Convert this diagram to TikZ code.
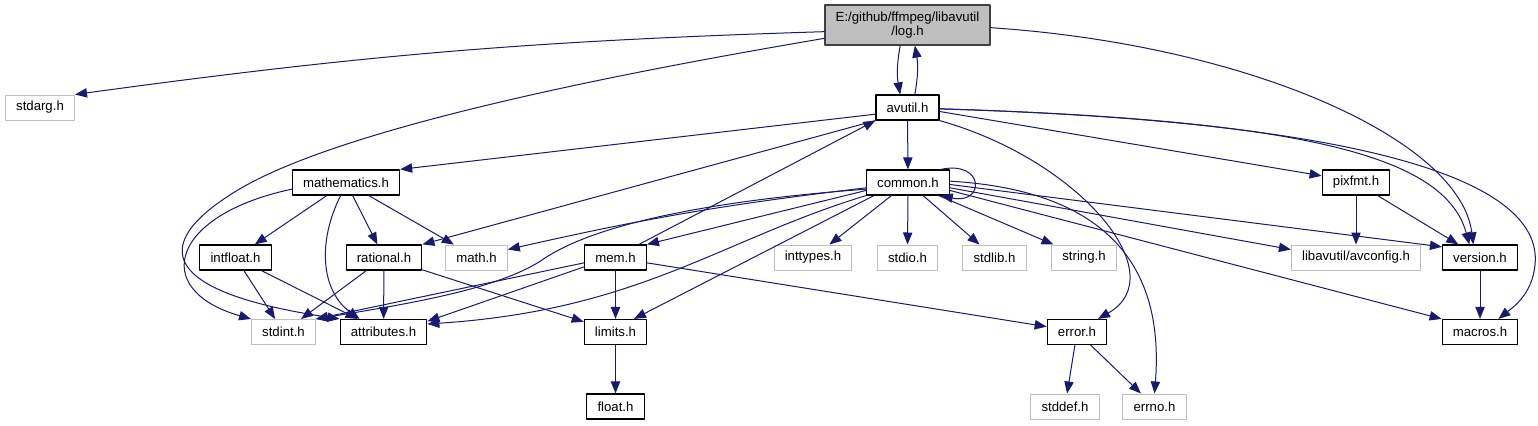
\documentclass[tikz,border=0pt]{standalone}
\usepackage{fontspec}
\setmainfont{Liberation Sans}
\usepackage{tikz}
\usetikzlibrary{positioning,arrows.meta}

\definecolor{depblue}{HTML}{191970}
\definecolor{hdrgray}{HTML}{BFBFBF}
\definecolor{hdrdark}{HTML}{404040}

\tikzset{
  filebox/.style={draw=black, line width=0.9pt, fill=white, minimum height=18.75pt,
    inner xsep=8pt, inner ysep=0pt, font=\fontsize{9.9}{11}\selectfont},
  sysbox/.style={filebox, draw=hdrgray, line width=0.75pt},
  rootbox/.style={filebox, fill=hdrgray, draw=hdrdark, minimum height=30pt, align=center},
  dep/.style={draw=depblue, line width=0.75pt, -{Triangle[length=9pt,width=7pt]}}
}

\begin{document}
\begin{tikzpicture}[x=0.75pt,y=-0.75pt, line cap=round, line join=round]
\path[use as bounding box, fill=white] (0,0) rectangle (1538,425);

% the header itself
\node[rootbox] (log) at (907.5,25) {E:/github/ffmpeg/libavutil\\/log.h};

% documented headers
\node[filebox] (avutil) at (907.5,107.5) {avutil.h};
\node[filebox] (mathematics) at (346,182.5) {mathematics.h};
\node[filebox] (common) at (908,182.5) {common.h};
\node[filebox] (pixfmt) at (1356,182.5) {pixfmt.h};
\node[filebox] (intfloat) at (235.5,257.5) {intfloat.h};
\node[filebox] (rational) at (384,257.5) {rational.h};
\node[filebox] (mem) at (615.5,257.5) {mem.h};
\node[filebox] (version) at (1480,257.5) {version.h};
\node[filebox] (attributes) at (383.5,332) {attributes.h};
\node[filebox] (limits) at (615.5,332) {limits.h};
\node[filebox] (error) at (1077,332) {error.h};
\node[filebox] (macros) at (1480,332) {macros.h};
\node[filebox] (float) at (615.5,406.5) {float.h};

% system headers (no docs)
\foreach \n/\x/\y/\t in {stdarg/40/107.5/stdarg.h, mathh/476.5/257.5/math.h,
    inttypes/813/257.5/inttypes.h, stdio/907.5/257.5/stdio.h,
    stdlib/994.5/257.5/stdlib.h, string/1084/257.5/string.h,
    stdint/283.5/332/stdint.h, stddef/1065/406.5/stddef.h,
    errno/1154.5/406.5/errno.h} {
  \node[sysbox] (\n) at (\x,\y) {\t};
}
\node[sysbox] (avconfig) at (1356,257.5) {libavutil/avconfig.h};

% includes of log.h
\draw[dep] ([yshift=-5pt]log.west) to[bend right=3] (stdarg.north east);
\draw[dep] ([yshift=-10pt]log.west) .. controls (650,68) and (340,125) .. (233,193)
  .. controls (150,245) and (160,292) .. (attributes.north west);
\draw[dep] ([xshift=-5.5pt]log.south) to[bend right=10] ([xshift=-5.5pt]avutil.north);
\draw[dep] ([yshift=-2pt]log.east) .. controls (1250,45) and (1460,140) .. ([xshift=-5pt]version.north);

% includes of avutil.h
\draw[dep] ([xshift=5.5pt]avutil.north) to[bend right=10] ([xshift=5.5pt]log.south);
\draw[dep] ([yshift=-5pt]avutil.west) -- (mathematics.north east);
\draw[dep] (avutil.south west) -- (rational.north east);
\draw[dep] (avutil) -- (common);
\draw[dep] ([yshift=-3pt]avutil.east) -- ([yshift=5pt]pixfmt.west);
\draw[dep] ([yshift=-1pt]avutil.east) .. controls (1300,120) and (1445,155) .. ([xshift=-8pt]version.north);
\draw[dep] ([yshift=-1pt]avutil.east) .. controls (1320,120) and (1545,170) .. (1535,265)
  .. controls (1532,295) and (1512,308) .. ([xshift=-15pt]macros.north east);
\draw[dep] (avutil.south east) .. controls (1080,160) and (1175,275) .. ([xshift=-7pt]error.north east);

% includes of common.h
\draw[dep] ([xshift=-7pt]common.north east) .. controls (985,160) and (985,205) .. ([xshift=-7pt]common.south east);
\draw[dep] ([yshift=-4pt]common.west) to[bend right=3] ([yshift=6pt]mathh.east);
\draw[dep] ([yshift=-5pt]common.west) .. controls (720,200) and (600,222) .. (545,258)
  .. controls (500,290) and (400,305) .. (stdint.north east);
\draw[dep] ([yshift=-6pt]common.west) -- (mem.north east);
\draw[dep] (common.south west) .. controls (720,240) and (640,310) .. ([yshift=6pt]attributes.east);
\draw[dep] ([xshift=6pt]common.south west) -- ([xshift=-10pt]limits.north east);
\foreach \b in {inttypes,stdio,stdlib,string} {
  \draw[dep] (common) -- (\b);
}
\draw[dep] ([yshift=-4pt]common.east) -- ([yshift=6pt]avconfig.west);
\draw[dep] ([yshift=-1.5pt]common.east) -- ([yshift=8pt]version.west);
\draw[dep] ([yshift=-6pt]common.east) -- (macros.north west);
\draw[dep] ([yshift=1pt]common.east) .. controls (1100,190) and (1165,260) .. (errno.north);

% includes of mathematics.h
\foreach \b in {intfloat,rational,mathh} {
  \draw[dep] (mathematics) -- (\b);
}
\draw[dep] ([xshift=-4pt]mathematics.south) .. controls (318,240) and (320,290) .. ([xshift=-18pt]attributes.north);
\draw[dep] ([yshift=-5pt]mathematics.west) .. controls (170,215) and (150,290) .. (stdint.north west);

% includes of mem.h
\draw[dep] ([xshift=-6pt]mem.north east) -- (avutil.south west);
\draw[dep] ([yshift=-4pt]mem.west) -- (stdint.north east);
\draw[dep] ([yshift=-7pt]mem.west) -- ([yshift=8pt]attributes.east);
\draw[dep] ([yshift=-4pt]mem.east) -- ([yshift=4pt]error.west);

% the rest, centre to centre
\foreach \a/\b in {intfloat/stdint, intfloat/attributes, rational/stdint,
    rational/attributes, rational/limits, mem/limits, limits/float,
    error/stddef, error/errno, version/macros, pixfmt/avconfig, pixfmt/version} {
  \draw[dep] (\a) -- (\b);
}
\end{tikzpicture}
\end{document}
